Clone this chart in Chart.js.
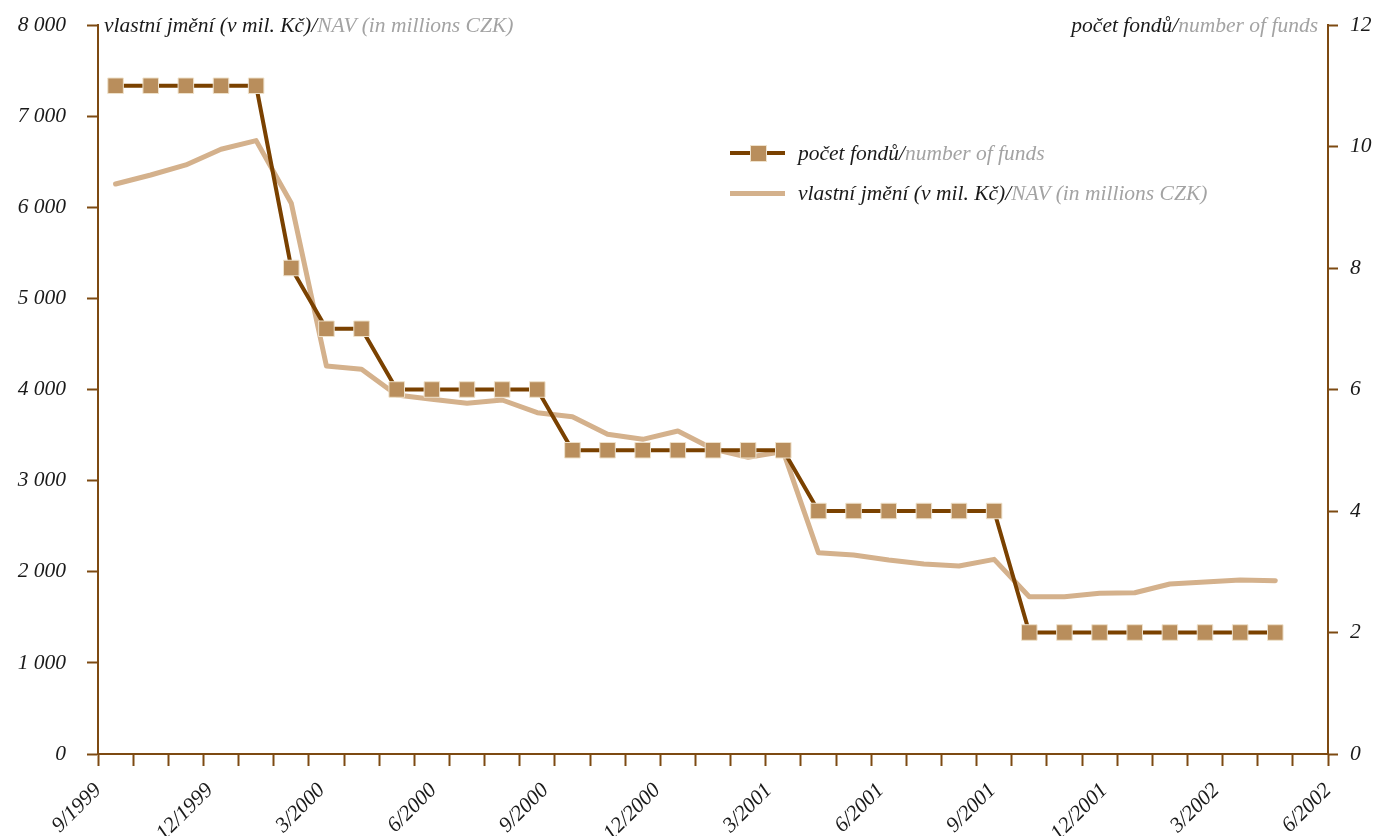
<!DOCTYPE html>
<html><head><meta charset="utf-8">
<script src="https://cdn.jsdelivr.net/npm/chart.js@4.4.1/dist/chart.umd.min.js"></script>
<style>
html,body{margin:0;padding:0;background:#fff;}
#wrap{position:relative;width:1374px;height:836px;overflow:hidden;}
canvas{position:absolute;left:0;top:0;}
.t{position:absolute;font-family:"Liberation Serif","Times New Roman",serif;font-style:italic;font-size:21.5px;line-height:26px;white-space:nowrap;color:#1a1a1a;}
.g{color:#a3a3a3;}
.sym{position:absolute;}
</style></head><body>
<div id="wrap"><canvas id="c" width="1374" height="836"></canvas>
<div class="t" style="left:104px;top:12px">vlastní jmění (v mil. Kč)/<span class="g">NAV (in millions CZK)</span></div>
<div class="t" style="right:56px;top:12px">počet fondů/<span class="g">number of funds</span></div>
<div class="sym" style="left:730px;top:151px;width:55px;height:4px;background:#7a4100"></div>
<div class="sym" style="left:750px;top:145px;width:15px;height:15px;background:#b98e5c;border:1px solid #efe2cc"></div>
<div class="t" style="left:798px;top:140px">počet fondů/<span class="g">number of funds</span></div>
<div class="sym" style="left:730px;top:191px;width:55px;height:5px;background:#d4b18c"></div>
<div class="t" style="left:798px;top:180px">vlastní jmění (v mil. Kč)/<span class="g">NAV (in millions CZK)</span></div>
</div>
<script>
// ---- data ----
const dateLabels = ['9/1999','12/1999','3/2000','6/2000','9/2000','12/2000','3/2001','6/2001','9/2001','12/2001','3/2002','6/2002'];
const fundCounts = [11,11,11,11,11,8,7,7,6,6,6,6,6,5,5,5,5,5,5,5,4,4,4,4,4,4,2,2,2,2,2,2,2,2];
const navValues = [6255,6354,6464,6636,6731,6043,4258,4222,3940,3892,3848,3885,3746,3702,3508,3453,3545,3347,3256,3318,2209,2184,2129,2085,2063,2136,1726,1726,1763,1770,1866,1888,1909,1902];
const leftTickLabels = ['0','1 000','2 000','3 000','4 000','5 000','6 000','7 000','8 000'];
const rightTickLabels = ['0','2','4','6','8','10','12'];
const nSlots = 35;

const axisColor = '#7d4a12';
const txtColor = '#1a1a1a';
Chart.defaults.font.family = '"Liberation Serif","Times New Roman",serif';
Chart.defaults.font.style = 'italic';
Chart.defaults.font.size = 21.5;
Chart.defaults.color = txtColor;

const pts = arr => arr.map((v,i)=>({x:i+0.5,y:v}));
const labelAt = v => {
  for (let k=0;k<dateLabels.length;k++){
    if (Math.abs(nSlots*k/(dateLabels.length-1) - v) < 1e-6) return dateLabels[k];
  }
  return '';
};
const zeroPad = s => { s.paddingTop = 0; s.paddingBottom = 0; s.paddingLeft = 0; s.paddingRight = 0; };

new Chart(document.getElementById('c'), {
  type:'line',
  data:{datasets:[
    {label:'počet fondů/number of funds', data:pts(fundCounts), yAxisID:'y2', borderColor:'#7a4100', borderWidth:4,
     pointStyle:'rect', pointRadius:11, pointBackgroundColor:'#b98e5c', pointBorderColor:'#efe2cc', pointBorderWidth:1,
     tension:0, order:0, clip:false},
    {label:'vlastní jmění (v mil. Kč)/NAV (in millions CZK)', data:pts(navValues), yAxisID:'y', borderColor:'#d4b18c', borderWidth:5,
     pointRadius:0, tension:0, borderCapStyle:'round', borderJoinStyle:'round', order:1, clip:false}
  ]},
  options:{
    responsive:false, animation:false, devicePixelRatio:1,
    layout:{autoPadding:false, padding:{top:25,left:0,right:0,bottom:0}},
    plugins:{legend:{display:false}, tooltip:{enabled:false}},
    scales:{
      x:{type:'linear', position:'bottom', min:0, max:nSlots,
        afterBuildTicks: s => {
          const t=[];
          for(let i=0;i<=nSlots;i++) t.push({value:i});
          for(let k=1;k<dateLabels.length-1;k++) t.push({value:nSlots*k/(dateLabels.length-1)});
          t.sort((a,b)=>a.value-b.value);
          s.ticks=t;
        },
        ticks:{autoSkip:false, minRotation:45, maxRotation:45, padding:12, color:txtColor,
          callback:(v)=>labelAt(v)},
        grid:{drawOnChartArea:false, drawTicks:true, tickLength:12, tickWidth:2,
          tickColor: ctx => (ctx.tick && Number.isInteger(ctx.tick.value)) ? axisColor : 'rgba(0,0,0,0)'},
        border:{display:true, color:axisColor, width:2},
        afterFit: s => { s.height = 82; zeroPad(s); }
      },
      y:{position:'left', min:0, max:8000,
        ticks:{stepSize:1000, padding:21, color:txtColor, callback:(v,i)=>leftTickLabels[i]},
        grid:{drawOnChartArea:false, drawTicks:true, tickLength:11, tickWidth:2, tickColor:axisColor},
        border:{display:true, color:axisColor, width:2},
        afterFit: s => { s.width = 98; zeroPad(s); }
      },
      y2:{position:'right', min:0, max:12,
        ticks:{stepSize:2, padding:12, color:txtColor, callback:(v,i)=>rightTickLabels[i]},
        grid:{drawOnChartArea:false, drawTicks:true, tickLength:10, tickWidth:2, tickColor:axisColor},
        border:{display:true, color:axisColor, width:2},
        afterFit: s => { s.width = 46; zeroPad(s); }
      }
    }
  }
});
</script>
</body></html>
